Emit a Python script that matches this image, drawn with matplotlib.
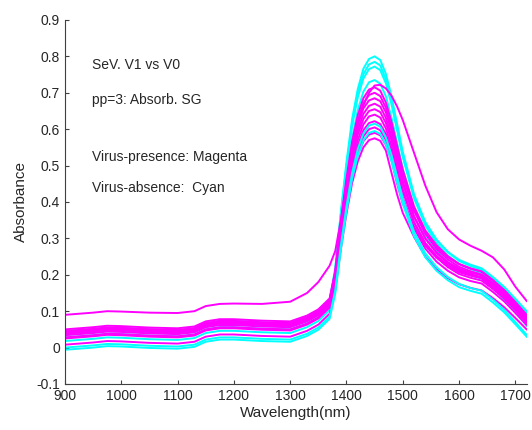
import matplotlib
matplotlib.use("Agg")
import matplotlib.pyplot as plt

# wavelength grid (nm) the spectra were read at
wavelength = [900, 950, 975, 1000, 1050, 1100, 1130, 1150, 1175, 1200, 1250, 1300, 1330, 1350, 1370,
              1380, 1390, 1400, 1410, 1420, 1430, 1440, 1450, 1460, 1470, 1480, 1490, 1500,
              1520, 1540, 1560, 1580, 1600, 1620, 1640, 1660, 1680, 1700, 1720]

# virus-absence spectra (cyan)
cyan_1 = [.035, .041, .045, .044, .040, .038, .043, .057, .063, .063, .059, .057, .073, .090, .120,
          .214, .372, .510, .628, .710, .766, .793, .800, .790, .752, .690, .614, .538,
          .421, .345, .296, .262, .238, .224, .214, .190, .163, .130, .095]
cyan_2 = [.028, .034, .038, .037, .033, .031, .036, .050, .056, .056, .052, .050, .066, .083, .113,
          .205, .362, .499, .615, .696, .751, .778, .785, .775, .737, .676, .601, .526,
          .410, .335, .287, .253, .229, .216, .205, .181, .153, .120, .085]
cyan_3 = [.045, .051, .055, .054, .050, .048, .053, .067, .073, .073, .069, .067, .083, .100, .130,
          .218, .368, .498, .609, .687, .739, .765, .772, .762, .726, .668, .596, .524,
          .413, .342, .296, .263, .241, .228, .218, .194, .167, .134, .100]
cyan_4 = [.018, .024, .028, .027, .023, .021, .026, .040, .046, .046, .042, .040, .056, .073, .103,
          .189, .337, .465, .575, .652, .703, .729, .735, .725, .690, .632, .562, .491,
          .382, .311, .266, .234, .212, .199, .189, .163, .132, .097, .060]
cyan_5 = [.000, .006, .010, .009, .005, .003, .008, .022, .028, .028, .024, .022, .038, .055, .085,
          .156, .280, .388, .480, .545, .588, .610, .615, .607, .577, .529, .469, .410,
          .318, .259, .221, .194, .175, .164, .156, .132, .104, .070, .035]
cyan_6 = [-.006, .000, .004, .003, -.001, -.003, .002, .016, .022, .022, .018, .016, .032, .049, .079,
          .148, .269, .374, .464, .527, .569, .590, .595, .587, .558, .511, .453, .395,
          .306, .248, .211, .185, .166, .156, .148, .124, .097, .064, .030]

# virus-presence spectra (magenta)
magenta_1 = [.045, .051, .055, .054, .050, .048, .053, .067, .073, .073, .069, .067, .083, .100, .130,
             .209, .346, .465, .566, .638, .685, .709, .715, .706, .673, .620, .554, .489,
             .388, .322, .281, .251, .230, .218, .209, .185, .158, .125, .090]
magenta_2 = [.038, .044, .048, .047, .043, .041, .046, .060, .066, .066, .062, .060, .076, .093, .123,
             .201, .336, .453, .553, .624, .671, .694, .700, .691, .659, .606, .542, .477,
             .377, .313, .271, .242, .222, .210, .201, .178, .151, .119, .085]
magenta_3 = [.050, .056, .060, .059, .055, .053, .058, .072, .078, .078, .074, .072, .088, .105, .135,
             .209, .338, .450, .545, .612, .657, .679, .685, .677, .646, .595, .534, .472,
             .377, .315, .276, .248, .229, .217, .209, .185, .157, .123, .088]
magenta_4 = [.034, .040, .044, .043, .039, .037, .042, .056, .062, .062, .058, .056, .072, .089, .119,
             .193, .322, .434, .530, .597, .642, .664, .670, .662, .631, .580, .519, .457,
             .361, .300, .260, .232, .213, .202, .193, .170, .144, .111, .078]
magenta_5 = [.042, .048, .052, .051, .047, .045, .050, .064, .070, .070, .066, .064, .080, .097, .127,
             .198, .321, .429, .521, .585, .628, .650, .655, .647, .617, .569, .510, .451,
             .359, .300, .262, .235, .217, .206, .198, .174, .147, .114, .080]
magenta_6 = [.028, .034, .038, .037, .033, .031, .036, .050, .056, .056, .052, .050, .066, .083, .113,
             .184, .307, .414, .506, .570, .613, .635, .640, .632, .602, .554, .495, .436,
             .345, .286, .248, .221, .202, .192, .184, .161, .135, .103, .070]
magenta_7 = [.040, .046, .050, .049, .045, .043, .048, .062, .068, .068, .064, .062, .078, .095, .125,
             .191, .308, .409, .495, .556, .597, .617, .622, .614, .587, .541, .485, .429,
             .343, .287, .252, .227, .209, .199, .191, .167, .140, .107, .072]
magenta_8 = [.025, .031, .035, .034, .030, .028, .033, .047, .053, .053, .049, .047, .063, .080, .110,
             .176, .292, .393, .479, .539, .580, .600, .605, .597, .570, .524, .469, .413,
             .327, .272, .236, .211, .193, .183, .176, .153, .127, .095, .062]
magenta_9 = [.045, .051, .055, .054, .050, .048, .053, .067, .073, .073, .069, .067, .083, .100, .130,
             .191, .299, .393, .473, .529, .567, .585, .590, .583, .557, .515, .450, .395,
             .332, .280, .247, .223, .207, .198, .191, .166, .138, .104, .068]
magenta_10 = [.008, .014, .018, .017, .013, .011, .016, .030, .036, .036, .032, .030, .046, .063, .093,
              .157, .270, .368, .452, .511, .550, .570, .575, .568, .541, .480, .420, .370,
              .304, .250, .216, .191, .174, .164, .157, .136, .111, .081, .050]
magenta_outlier = [.090, .096, .100, .099, .096, .095, .100, .114, .120, .121, .120, .126, .150, .180, .225,
                   .265, .350, .450, .540, .610, .665, .700, .720, .722, .712, .692, .662, .625,
                   .535, .445, .372, .325, .297, .280, .266, .248, .215, .167, .128]

cyan_back = [cyan_1, cyan_2, cyan_3, cyan_4]
magenta_all = [magenta_1, magenta_2, magenta_3, magenta_4, magenta_5, magenta_6,
               magenta_7, magenta_8, magenta_9, magenta_10, magenta_outlier]
cyan_front = [cyan_5, cyan_6]

notes = ["SeV. V1 vs V0", "pp=3: Absorb. SG", "Virus-presence: Magenta", "Virus-absence:  Cyan"]
note_y = [0.776, 0.68, 0.524, 0.438]

plt.rcParams['font.family'] = ['Liberation Sans', 'DejaVu Sans']

fig = plt.figure(figsize=(5.32, 4.30), dpi=100)
ax = fig.add_axes([0.122, 0.107, 0.868, 0.8465])

for c in cyan_back:
    ax.plot(wavelength, c, color='#00FFFF', lw=1.4)
for m in magenta_all:
    ax.plot(wavelength, m, color='#FF00FF', lw=1.4)
for c in cyan_front:
    ax.plot(wavelength, c, color='#00FFFF', lw=1.4)

for t, y in zip(notes, note_y):
    ax.text(948, y, t, fontsize=10, color='#262626', va='center')

ax.set_xlim(900, 1720)
ax.set_ylim(-0.1, 0.9)
ax.set_xticks([900, 1000, 1100, 1200, 1300, 1400, 1500, 1600, 1700])
ax.set_yticks([-0.1, 0, 0.1, 0.2, 0.3, 0.4, 0.5, 0.6, 0.7, 0.8, 0.9])
ax.set_yticklabels(['-0.1', '0', '0.1', '0.2', '0.3', '0.4', '0.5', '0.6', '0.7', '0.8', '0.9'])
ax.set_xlabel('Wavelength(nm)', fontsize=11, color='#262626', labelpad=2)
ax.set_ylabel('Absorbance', fontsize=11, color='#262626', labelpad=6)

for s in ['top', 'right']:
    ax.spines[s].set_visible(False)
for s in ['left', 'bottom']:
    ax.spines[s].set_color('#404040')
    ax.spines[s].set_linewidth(0.8)
ax.tick_params(direction='in', length=3, width=0.8, color='#404040', labelcolor='#262626', labelsize=10)

fig.savefig('out.png', dpi=100)
